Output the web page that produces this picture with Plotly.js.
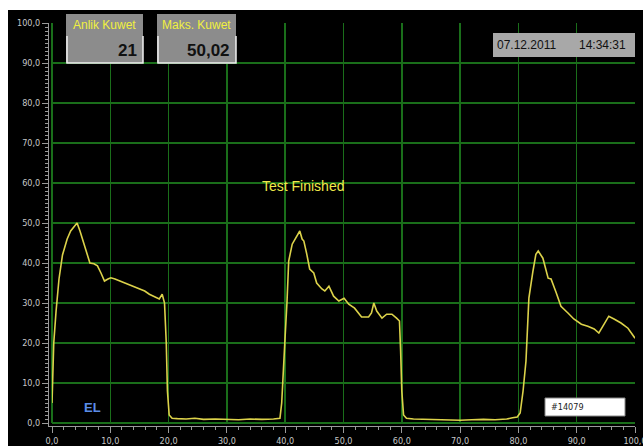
<!DOCTYPE html>
<html>
<head>
<meta charset="utf-8">
<script src="https://cdn.plot.ly/plotly-3.0.1.min.js"></script>
<style>html,body{margin:0;padding:0;background:#fff;}#chart{width:643px;height:446px;}</style>
</head>
<body>
<div id="chart"></div>
<script>
// Time (x) values and force (y) values
const timeVals = [
  0, 0.3, 0.7, 1.2, 1.8, 2.6, 3.2, 3.8, 4.3, 4.8, 5.3, 5.9, 6.5, 7.2, 7.8, 8.4, 9.0, 9.6, 10.1, 10.8,
  11.6, 12.4, 13.3, 14.3, 15.1, 15.9, 16.7, 17.6, 18.4, 18.9, 19.3, 19.6, 19.8, 20.1, 20.6,
  21.5, 23, 24.5, 26, 28, 30, 32, 34, 36, 38, 39.1,
  39.4, 39.7, 40.0, 40.3, 40.6, 41.2, 42.0, 42.5, 42.9, 43.2, 43.7, 44.2, 44.9, 45.4, 46.3, 46.8, 47.5,
  48.3, 49.2, 50.1, 50.9, 51.9, 53.1, 54.3, 54.8, 55.2, 55.7, 56.6, 57.4, 58.3, 59.1, 59.6, 59.8, 60.0, 60.3, 60.8,
  62, 64, 66, 68, 70, 72, 74, 76, 78, 79, 79.8, 80.3,
  80.8, 81.3, 81.8, 82.5, 83.0, 83.4, 84.2, 85.1, 85.6, 86.5, 87.3, 88.5, 89.5, 90.8, 91.9, 93.0, 93.8, 94.7,
  95.5, 96.4, 97.6, 98.8, 100
];
const forceVals = [
  5, 20, 28, 36, 42, 46, 48, 49, 50, 48, 45.5, 42.5, 40, 39.8, 39.3, 37.5, 35.5, 36, 36.3, 36,
  35.5, 35, 34.5, 34, 33.5, 33, 32.2, 31.5, 31, 32.2, 30, 20, 8, 2, 1.2,
  1.1, 1.0, 1.2, 0.9, 1.0, 0.9, 0.8, 1.0, 0.9, 1.0, 1.2,
  5, 15, 22, 30, 40.5, 44.7, 46.7, 48, 46, 45.5, 42.2, 38.5, 37.5, 35, 33.5, 33, 34.2,
  31.7, 30.5, 31.2, 29.7, 28.7, 26.5, 26.5, 27.5, 30, 28, 26.2, 27.2, 27.2, 26.2, 25.5, 18, 8, 2, 1.2,
  1.0, 0.9, 0.8, 0.8, 0.7, 0.8, 0.9, 0.8, 1.0, 1.3, 1.5, 2.5,
  8, 15.5, 31.2, 38, 42.2, 43, 41.2, 36.2, 36, 32.5, 29.2, 27.5, 26, 24.7, 24.2, 23.5, 22.5, 24.7,
  26.7, 26, 25, 23.7, 21.2
];
const anlikLabel = "Anlik Kuwet";
const anlikValue = "21";
const maksLabel = "Maks. Kuwet";
const maksValue = "50,02";
const dateText = "07.12.2011";
const timeText = "14:34:31";
const statusText = "Test Finished";
const elText = "EL";
const idText = "#14079";

// pixel -> paper helpers (plot area: x 52..635, y 23..423)
const L = 52, R = 8, T = 23, B = 23, W = 643, H = 446;
const pw = W - L - R, ph = H - T - B;
const px = p => (p - L) / pw;
const py = p => (H - B - p) / ph;

const tickFont = {family: '"Liberation Sans Narrow","DejaVu Sans Condensed",Arial,sans-serif', size: 9, color: '#c8c8c8'};
const grid = '#1a6e1a';
const axisCol = '#9a9a9a';

const shapes = [
  {type:'rect', xref:'paper', yref:'paper', x0:px(8), x1:px(643), y0:py(446), y1:py(10), fillcolor:'#000', line:{width:0}, layer:'below'},
  // Anlik box
  {type:'rect', xref:'paper', yref:'paper', x0:px(66), x1:px(143), y0:py(63), y1:py(14), fillcolor:'#8c8c8c', line:{width:0}},
  {type:'path', xref:'paper', yref:'paper', path:`M ${px(67)} ${py(36)} L ${px(67)} ${py(63)} L ${px(143)} ${py(63)} L ${px(143)} ${py(36)}`, line:{color:'#f0f0f0', width:1.5}},
  // Maks box
  {type:'rect', xref:'paper', yref:'paper', x0:px(157), x1:px(236), y0:py(63), y1:py(14), fillcolor:'#8c8c8c', line:{width:0}},
  {type:'path', xref:'paper', yref:'paper', path:`M ${px(158)} ${py(36)} L ${px(158)} ${py(63)} L ${px(236)} ${py(63)} L ${px(236)} ${py(36)}`, line:{color:'#f0f0f0', width:1.5}},
  // date box
  {type:'rect', xref:'paper', yref:'paper', x0:px(493), x1:px(635), y0:py(57), y1:py(33), fillcolor:'#a8a8a8', line:{width:0}},
  // id box
  {type:'rect', xref:'paper', yref:'paper', x0:px(545), x1:px(625), y0:py(416), y1:py(398), fillcolor:'#ffffff', line:{color:'#888', width:1}}
];

const annFont = '"Liberation Sans","Arial",sans-serif';
const annotations = [
  {xref:'paper', yref:'paper', x:px(104), y:py(25), text:anlikLabel, showarrow:false, font:{family:annFont, size:12, color:'#f0f040'}, xanchor:'center', yanchor:'middle'},
  {xref:'paper', yref:'paper', x:px(139), y:py(50), text:'<b>'+anlikValue+'</b>', showarrow:false, font:{family:annFont, size:17, color:'#111'}, xanchor:'right', yanchor:'middle'},
  {xref:'paper', yref:'paper', x:px(196), y:py(25), text:maksLabel, showarrow:false, font:{family:annFont, size:12, color:'#f0f040'}, xanchor:'center', yanchor:'middle'},
  {xref:'paper', yref:'paper', x:px(232), y:py(50), text:'<b>'+maksValue+'</b>', showarrow:false, font:{family:annFont, size:17, color:'#111'}, xanchor:'right', yanchor:'middle'},
  {xref:'paper', yref:'paper', x:px(495), y:py(45), text:dateText, showarrow:false, font:{family:annFont, size:12, color:'#111'}, xanchor:'left', yanchor:'middle'},
  {xref:'paper', yref:'paper', x:px(628), y:py(45), text:timeText, showarrow:false, font:{family:annFont, size:12, color:'#111'}, xanchor:'right', yanchor:'middle'},
  {xref:'paper', yref:'paper', x:px(303), y:py(186), text:statusText, showarrow:false, font:{family:annFont, size:14, color:'#f0e84a'}, xanchor:'center', yanchor:'middle'},
  {xref:'paper', yref:'paper', x:px(92), y:py(407), text:'<b>'+elText+'</b>', showarrow:false, font:{family:annFont, size:13, color:'#5b8de8'}, xanchor:'center', yanchor:'middle'},
  {xref:'paper', yref:'paper', x:px(549), y:py(407), text:idText, showarrow:false, font:{family:'"Liberation Sans Narrow","DejaVu Sans Condensed",Arial,sans-serif', size:9, color:'#222'}, xanchor:'left', yanchor:'middle'}
];

const trace = {
  x: timeVals, y: forceVals, type:'scatter', mode:'lines',
  line:{color:'#dcd24a', width:1.6}, hoverinfo:'skip'
};

const layout = {
  width: W, height: H,
  margin:{l:L, r:R, t:T, b:B, pad:3},
  paper_bgcolor:'#ffffff', plot_bgcolor:'#000000',
  separators: ',.',
  showlegend:false,
  xaxis:{range:[0,100], dtick:10, tick0:0, tickformat:'.1f', showgrid:true, gridcolor:grid, gridwidth:1.5,
    zeroline:true, zerolinecolor:grid, zerolinewidth:1.5, showline:true, linecolor:axisCol, linewidth:1, ticks:'outside', ticklen:6, tickcolor:axisCol,
    ticklabeloverflow:'allow', tickfont:tickFont, minor:{dtick:2, ticks:'outside', ticklen:3, tickcolor:axisCol, showgrid:false}, fixedrange:true},
  yaxis:{range:[0,100], dtick:10, tick0:0, tickformat:'.1f', showgrid:true, gridcolor:grid, gridwidth:1.5,
    zeroline:true, zerolinecolor:grid, zerolinewidth:1.5, showline:true, linecolor:axisCol, linewidth:1, ticks:'outside', ticklen:6, tickcolor:axisCol,
    tickfont:tickFont, minor:{dtick:1, ticks:'outside', ticklen:3, tickcolor:axisCol, showgrid:false}, fixedrange:true},
  shapes: shapes,
  annotations: annotations
};

Plotly.newPlot('chart', [trace], layout, {staticPlot:true, displayModeBar:false});
</script>
</body>
</html>
